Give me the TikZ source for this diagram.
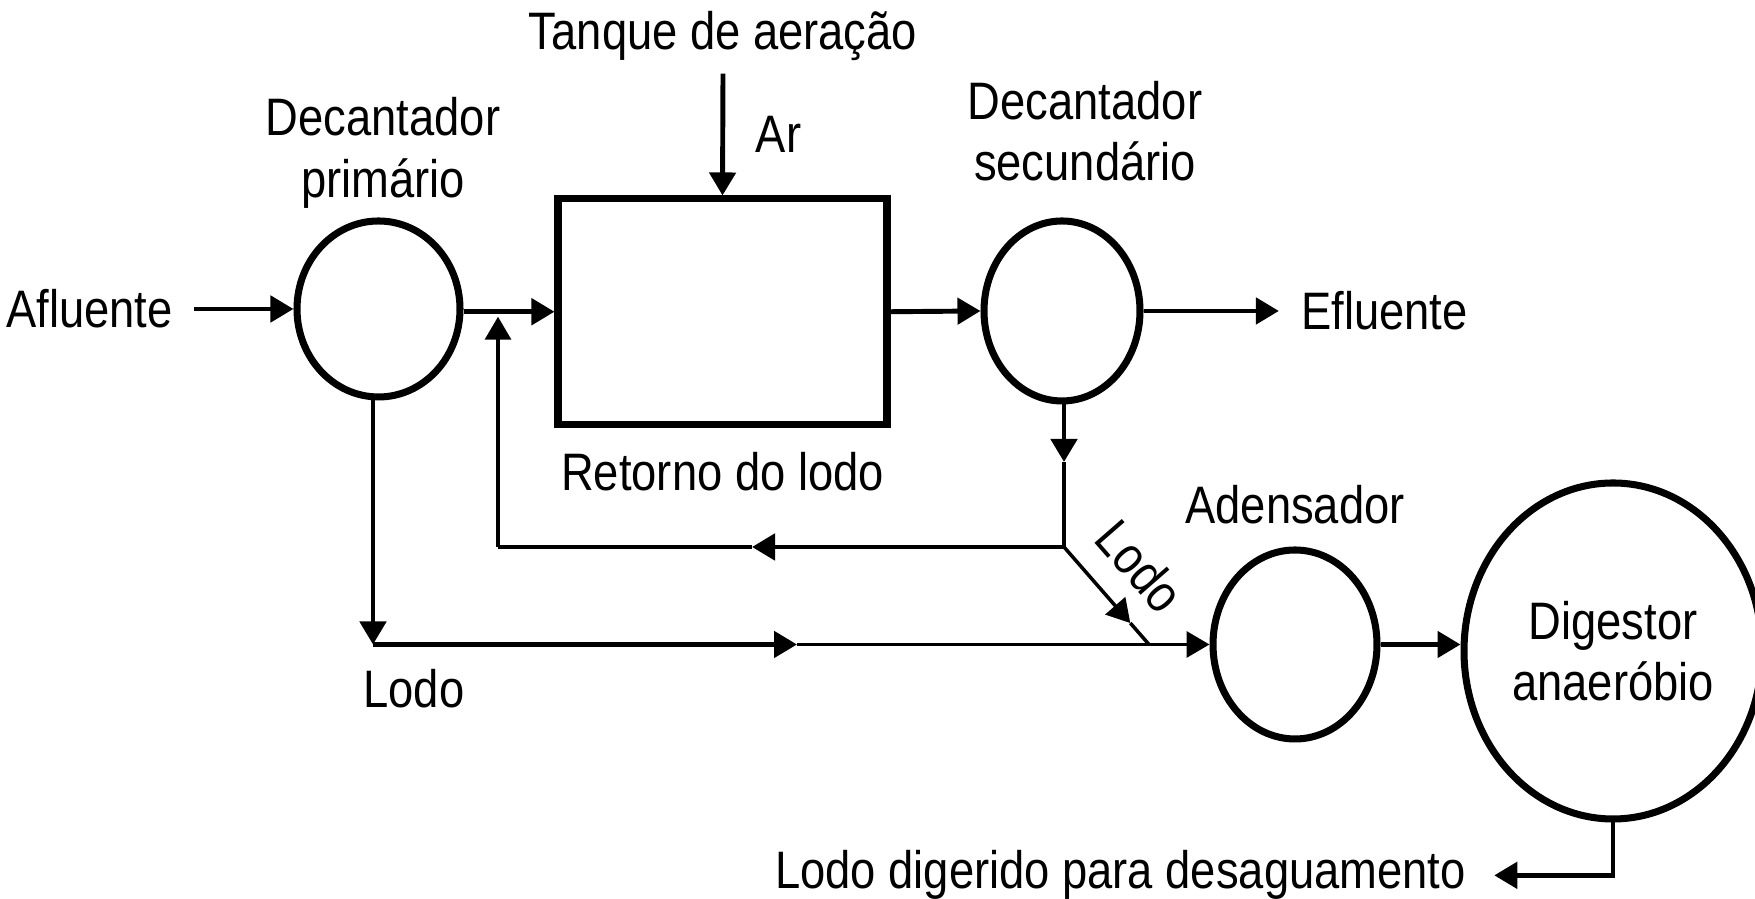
\documentclass[tikz,border=0pt]{standalone}
\usepackage{fontspec}
\setmainfont{Liberation Sans}[FakeStretch=0.86]
\usetikzlibrary{calc}
\usetikzlibrary{shapes}
\usetikzlibrary{arrows.meta,positioning}

\begin{document}
\begin{tikzpicture}[node distance=1.1cm,
font=\fontsize{15pt}{17.5pt}\selectfont,
seta/.style={
  line width=1.4pt,
  -{Triangle[length=2.3mm,width=2.6mm]}
},
linha/.style={
  line width=1.4pt
},
fina/.style={
  line width=1pt
},
tanque/.style={
  ellipse,
  line width=2pt,
  draw=black,
  inner sep=0pt
},
caixa/.style={
  rectangle,
  line width=2pt,
  draw=black,
  minimum width=3.29cm,
  minimum height=2.255cm
}]
\useasboundingbox (0,0) rectangle (17.55,8.99);

\node[tanque, minimum width=1.63cm, minimum height=1.76cm] (DP) at (3.785,5.90) {};
\node[caixa] (TA) at (7.225,5.8725) {};
\node[tanque, minimum width=1.56cm, minimum height=1.80cm] (DS) at (10.62,5.88) {};
\node[tanque, minimum width=1.64cm, minimum height=1.89cm] (AD) at (12.95,2.545) {};
\node[tanque, minimum width=2.98cm, minimum height=3.36cm, align=center] (DA) at (16.13,2.48) {Digestor\\anaeróbio};

\node (AF) at (0.895,5.90) {Afluente};
\node (EF) at (13.845,5.88) {Efluente};
\node (TQ) [anchor=base] at (7.23,8.49) {Tanque de aeração};
\node (AR) [anchor=base] at (7.785,7.46) {Ar};
\node (DPL) [align=center] at (3.83,7.46) {Decantador\\primário};
\node (DSL) [align=center] at (10.85,7.68) {Decantador\\secundário};
\node (RL) [below=1.2mm of TA] {Retorno do lodo};
\node (ADL) [above=1mm of AD] {Adensador};
\node (LP) at (4.14,2.10) {Lodo};
\node (LDD) [anchor=base] at (11.205,0.10) {Lodo digerido para desaguamento};

\coordinate (L1) at (3.73,2.545);
\coordinate (L2) at (7.97,2.545);
\coordinate (J) at (10.64,3.52);
\coordinate (R1) at (10.64,4.37);
\coordinate (R2) at (7.52,3.52);
\coordinate (R3) at (4.98,3.52);
\coordinate (D2) at (11.49,2.545);
\coordinate (D1) at ($(J)!0.78!(D2)$);

% linha principal
\draw[seta, shorten <=0.9mm] (AF.east) -- (DP.west);
\draw[seta] (DP.east |- TA.west) -- (TA.west);
\draw[seta] (TA.east) -- (DS.west);
\draw[seta, shorten >=1mm] (DS.east) -- (EF.west);
\draw[seta] (TQ.south) -- (TA.north);

% lodo primario
\draw[seta] (DP.south -| L1) -- (L1);
\draw[seta] (L1) -- (L2);
\draw[seta, line width=1pt] (L2) -- (AD.west);

% retorno do lodo
\draw[seta] (DS.south -| J) -- (R1);
\draw[linha] (R1) -- (J);
\draw[seta] (J) -- (R2);
\draw[linha] (R2) -- (R3);
\draw[seta, line width=1pt, shorten >=0.5mm] (R3) -- (R3 |- TA.west);

% lodo secundario
\draw[seta, line width=1pt] (J) -- (D1);
\draw[fina] (D1) -- (D2);
\path (J) -- (D2) node[midway, sloped, above=1.3mm] (LS) {Lodo};

\draw[seta] (AD.east) -- (AD.east -| DA.west);
\draw[seta, shorten >=1.6mm] (DA.south) |- (LDD.east);

\end{tikzpicture}
\end{document}
